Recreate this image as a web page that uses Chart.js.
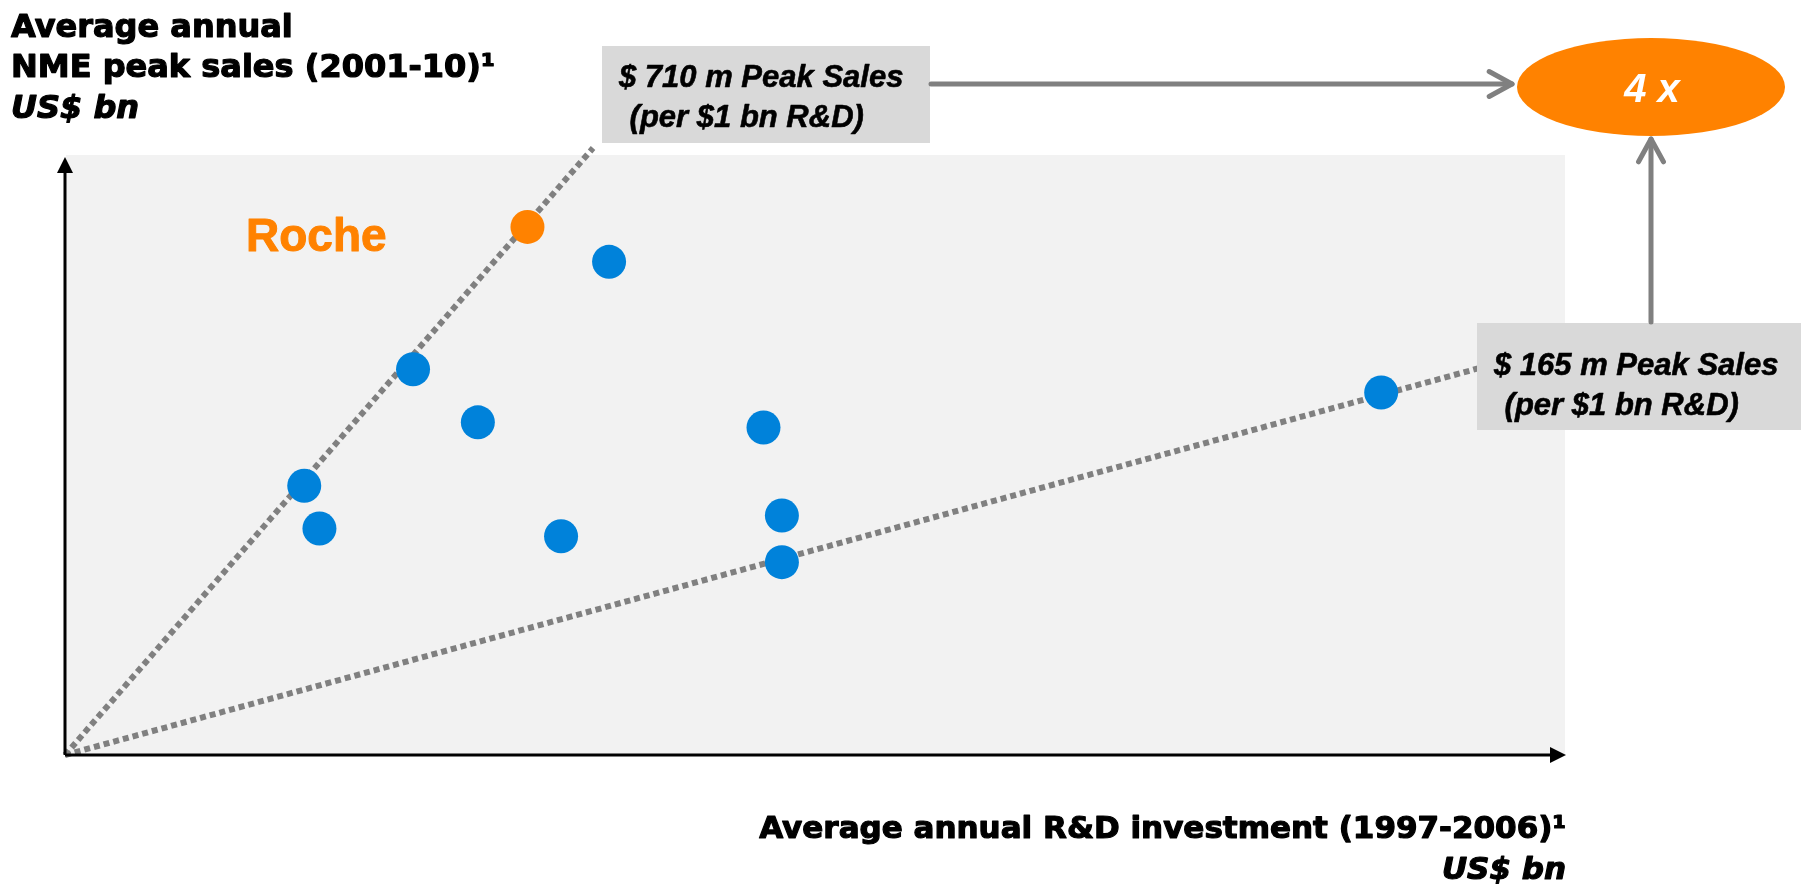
<!DOCTYPE html>
<html>
<head>
<meta charset="utf-8">
<script src="https://cdn.jsdelivr.net/npm/chart.js@4"></script>
<style>
  html, body { margin: 0; padding: 0; background: #ffffff; }
  #wrap { width: 1801px; height: 888px; }
</style>
</head>
<body>
<div id="wrap"><canvas id="rocheChart" width="1801" height="888"></canvas></div>
<script>
// R&D investment (x, US$ bn) vs NME peak sales (y, US$ bn)
const rocheX = [5.78];
const rocheY = [4.08];
const peerX = [6.80, 4.35, 5.16, 2.99, 3.18, 6.20, 8.73, 8.96, 8.96, 16.45];
const peerY = [3.81, 2.98, 2.57, 2.08, 1.75, 1.69, 2.53, 1.85, 1.49, 2.80];

// dotted productivity lines (from origin to where they run under the boxes)
const highLineX = [0, 6.60];
const highLineY = [0, 4.69];
const lowLineX = [0, 17.68];
const lowLineY = [0, 2.99];

const xMax = 18.76;
const yMax = 4.62;

const yTitle = ['Average annual', 'NME peak sales (2001-10)\u00B9', 'US$ bn'];
const xTitle = ['Average annual R&D investment (1997-2006)\u00B9', 'US$ bn'];
const highLabel = ['$ 710 m Peak Sales', ' (per $1 bn R&D)'];
const lowLabel = ['$ 165 m Peak Sales', ' (per $1 bn R&D)'];
const multLabel = '4 x';
const rocheLabel = 'Roche';

const ORANGE = '#FF8200';
const BLUE = '#0082DA';
const GREY = '#808080';

function toPoints(xs, ys) {
  return xs.map((x, i) => ({x: x, y: ys[i]}));
}

function arrowHead(ctx, x, y, dir, size) {
  // filled triangle, dir: 'up' or 'right'
  ctx.beginPath();
  if (dir == 'up') {
    ctx.moveTo(x, y);
    ctx.lineTo(x - size / 2, y + size);
    ctx.lineTo(x + size / 2, y + size);
  } else {
    ctx.moveTo(x, y);
    ctx.lineTo(x - size, y - size / 2);
    ctx.lineTo(x - size, y + size / 2);
  }
  ctx.closePath();
  ctx.fill();
}

function openArrow(ctx, x1, y1, x2, y2) {
  ctx.save();
  ctx.strokeStyle = GREY;
  ctx.lineWidth = 5;
  ctx.lineCap = 'round';
  ctx.lineJoin = 'round';
  ctx.beginPath();
  ctx.moveTo(x1, y1);
  ctx.lineTo(x2, y2);
  ctx.stroke();
  const ang = Math.atan2(y2 - y1, x2 - x1);
  const len = 26, spread = 0.5;
  ctx.beginPath();
  ctx.moveTo(x2 - len * Math.cos(ang - spread), y2 - len * Math.sin(ang - spread));
  ctx.lineTo(x2, y2);
  ctx.lineTo(x2 - len * Math.cos(ang + spread), y2 - len * Math.sin(ang + spread));
  ctx.stroke();
  ctx.restore();
}

// heavier text: fill plus a thin outline in the same colour
function heavyText(ctx, txt, x, y, w) {
  ctx.lineWidth = w;
  ctx.strokeStyle = ctx.fillStyle;
  ctx.lineJoin = 'round';
  ctx.strokeText(txt, x, y);
  ctx.fillText(txt, x, y);
}

const backdrop = {
  id: 'backdrop',
  beforeDatasetsDraw(chart) {
    const ctx = chart.ctx;
    const a = chart.chartArea;
    ctx.save();
    ctx.fillStyle = '#F2F2F2';
    ctx.fillRect(a.left + 1, a.top - 2, a.right - a.left - 2, a.bottom - a.top + 2);
    ctx.restore();
  }
};

const decorations = {
  id: 'decorations',
  afterDatasetsDraw(chart) {
    const ctx = chart.ctx;
    const a = chart.chartArea;
    ctx.save();

    // axes with arrow tips
    ctx.strokeStyle = '#000';
    ctx.fillStyle = '#000';
    ctx.lineWidth = 3;
    ctx.beginPath();
    ctx.moveTo(a.left, a.bottom);
    ctx.lineTo(a.left, a.top + 10);
    ctx.moveTo(a.left, a.bottom);
    ctx.lineTo(a.right - 10, a.bottom);
    ctx.stroke();
    arrowHead(ctx, a.left, a.top, 'up', 16);
    arrowHead(ctx, a.right, a.bottom, 'right', 16);

    // axis titles
    ctx.fillStyle = '#000';
    ctx.textBaseline = 'alphabetic';
    ctx.textAlign = 'left';
    ctx.font = 'bold 32px "DejaVu Sans"';
    heavyText(ctx, yTitle[0], 11, 37, 1.2);
    heavyText(ctx, yTitle[1], 11, 77, 1.2);
    ctx.font = 'italic bold 32px "DejaVu Sans"';
    heavyText(ctx, yTitle[2], 11, 118, 1.2);

    ctx.textAlign = 'right';
    ctx.font = 'bold 31px "DejaVu Sans"';
    heavyText(ctx, xTitle[0], a.right, 838, 1.2);
    ctx.font = 'italic bold 31px "DejaVu Sans"';
    heavyText(ctx, xTitle[1], a.right, 879, 1.2);

    // Roche label
    ctx.textAlign = 'left';
    ctx.fillStyle = ORANGE;
    ctx.font = 'bold 46px "Liberation Sans"';
    heavyText(ctx, rocheLabel, 246, 251, 1);

    // label boxes
    ctx.fillStyle = '#D9D9D9';
    ctx.fillRect(602, 46, 328, 97);
    ctx.fillRect(1477, 323, 324, 107);
    ctx.fillStyle = '#000';
    ctx.font = 'italic bold 31px "Liberation Sans"';
    heavyText(ctx, highLabel[0], 619, 87, 0.6);
    heavyText(ctx, highLabel[1], 621, 127, 0.6);
    heavyText(ctx, lowLabel[0], 1494, 375, 0.6);
    heavyText(ctx, lowLabel[1], 1496, 415, 0.6);

    // 4x ellipse
    ctx.fillStyle = ORANGE;
    ctx.beginPath();
    ctx.ellipse(1651, 87, 134, 49, 0, 0, Math.PI * 2);
    ctx.fill();
    ctx.fillStyle = '#fff';
    ctx.textAlign = 'center';
    ctx.font = 'italic bold 40px "Liberation Sans"';
    ctx.fillText(multLabel, 1652, 102);

    // connecting arrows
    openArrow(ctx, 931, 84, 1512, 84);
    openArrow(ctx, 1651, 322, 1651, 139);

    ctx.restore();
  }
};

const ctx1 = document.getElementById('rocheChart');

const rocheChart = new Chart(ctx1, {
  type: 'scatter',
  data: {
    datasets: [
      {
        label: 'Roche',
        data: toPoints(rocheX, rocheY),
        backgroundColor: ORANGE,
        borderWidth: 0,
        pointRadius: 17,
        pointHoverRadius: 17
      },
      {
        label: 'Peers',
        data: toPoints(peerX, peerY),
        backgroundColor: BLUE,
        borderWidth: 0,
        pointRadius: 17,
        pointHoverRadius: 17
      },
      {
        label: '710m line',
        data: toPoints(highLineX, highLineY),
        showLine: true,
        borderColor: GREY,
        borderWidth: 6,
        borderDash: [6, 4],
        pointRadius: 0,
        clip: false
      },
      {
        label: '165m line',
        data: toPoints(lowLineX, lowLineY),
        showLine: true,
        borderColor: GREY,
        borderWidth: 6,
        borderDash: [6, 4],
        pointRadius: 0,
        clip: false
      }
    ]
  },
  options: {
    responsive: false,
    animation: false,
    layout: { padding: { left: 65, right: 235, top: 157, bottom: 133 } },
    scales: {
      x: { display: false, min: 0, max: xMax },
      y: { display: false, min: 0, max: yMax }
    },
    plugins: {
      legend: { display: false },
      tooltip: { enabled: false }
    }
  },
  plugins: [backdrop, decorations]
});
</script>
</body>
</html>
